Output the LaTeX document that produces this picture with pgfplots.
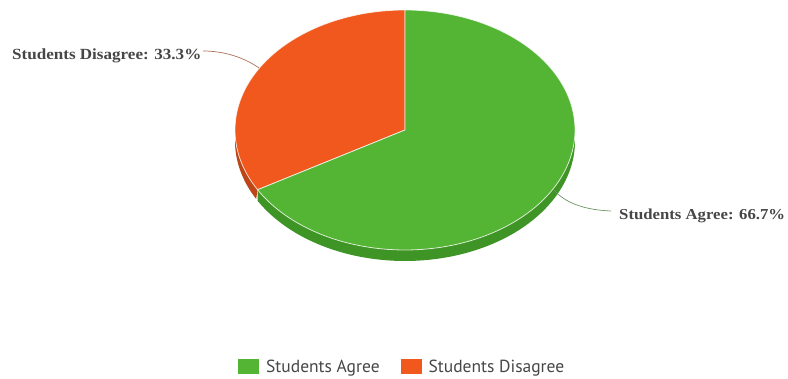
\documentclass[border=0pt]{standalone}
\usepackage{pgfplots}
\pgfplotsset{compat=1.18}
\usepackage{fontspec}
\newfontfamily\labelfont[FakeStretch=1.1]{Liberation Serif}
\newfontfamily\legfont{PT Sans}
\definecolor{pgreen}{RGB}{84,180,52}
\definecolor{porange}{RGB}{240,88,30}
\definecolor{sgreen}{RGB}{62,148,36}
\definecolor{sorange}{RGB}{188,70,24}
\definecolor{lbl}{RGB}{70,70,70}
\begin{document}
\begin{tikzpicture}
\pgfmathsetmacro{\vAgree}{66.7}
\pgfmathsetmacro{\vDis}{33.3}
\pgfmathsetmacro{\aSplit}{90+3.6*\vDis}
\begin{axis}[at={(0,0)},anchor=south west,
  width=788pt,height=379pt,scale only axis,hide axis,
  xmin=0,xmax=788,ymin=0,ymax=379,clip=false,
  legend columns=2,
  legend image code/.code={\fill[#1] (0pt,-7pt) rectangle (21pt,7.5pt);},
  legend style={at={(238/788,12/379)},anchor=west,draw=none,fill=none,inner sep=0pt,
    font=\legfont\fontsize{17.5}{19}\selectfont,text=lbl,
    /tikz/every odd column/.append style={column sep=5pt},
    /tikz/every even column/.append style={column sep=19pt}},
]
% side (depth) of the pie
\addplot[forget plot,fill=sgreen,draw=none,domain=0:2,samples=201,variable=\t]
 ({405+170*cos(\t<1.005 ? \aSplit+(360-\aSplit)*\t : 360-(360-\aSplit)*(\t-1))},
  {249+120*sin(\t<1.005 ? \aSplit+(360-\aSplit)*\t : 360-(360-\aSplit)*(\t-1)) - (\t<1.005 ? 0 : 11)}) -- cycle;
\addplot[forget plot,fill=sorange,draw=none,domain=0:2,samples=61,variable=\t]
 ({405+170*cos(\t<1.005 ? 180+(\aSplit-180)*\t : \aSplit-(\aSplit-180)*(\t-1))},
  {249+120*sin(\t<1.005 ? 180+(\aSplit-180)*\t : \aSplit-(\aSplit-180)*(\t-1)) - (\t<1.005 ? 0 : 11)}) -- cycle;
% top faces
\addplot[forget plot,fill=porange,draw=white,draw opacity=0.75,line width=0.8pt,domain=90:\aSplit,samples=80]
 ({405+170*cos(x)},{249+120*sin(x)}) -- (axis cs:405,249) -- cycle;
\addplot[forget plot,fill=pgreen,draw=white,draw opacity=0.75,line width=0.8pt,domain=\aSplit:450,samples=150]
 ({405+170*cos(x)},{249+120*sin(x)}) -- (axis cs:405,249) -- cycle;
\addlegendimage{fill=pgreen,draw=none}
\addlegendentry{Students Agree}
\addlegendimage{fill=porange,draw=none}
\addlegendentry{Students Disagree}
% data labels
\draw[color=porange!40!gray,line width=0.7pt] (axis cs:203,328) .. controls (axis cs:225,328) and (axis cs:245,321) .. (axis cs:259,311);
\draw[color=pgreen!40!gray,line width=0.7pt] (axis cs:554,189) .. controls (axis cs:565,176) and (axis cs:585,169) .. (axis cs:611,168);
\node[anchor=base west,text=lbl,inner sep=0pt,font=\labelfont\bfseries\fontsize{15.5}{17}\selectfont] at (axis cs:12,319.5) {Students Disagree: 33.3\%};
\node[anchor=base west,text=lbl,inner sep=0pt,font=\labelfont\bfseries\fontsize{15.2}{17}\selectfont] at (axis cs:619,159.7) {Students Agree: 66.7\%};
\end{axis}
\pgfresetboundingbox
\useasboundingbox (0,0) rectangle (788pt,379pt);
\end{tikzpicture}
\end{document}
